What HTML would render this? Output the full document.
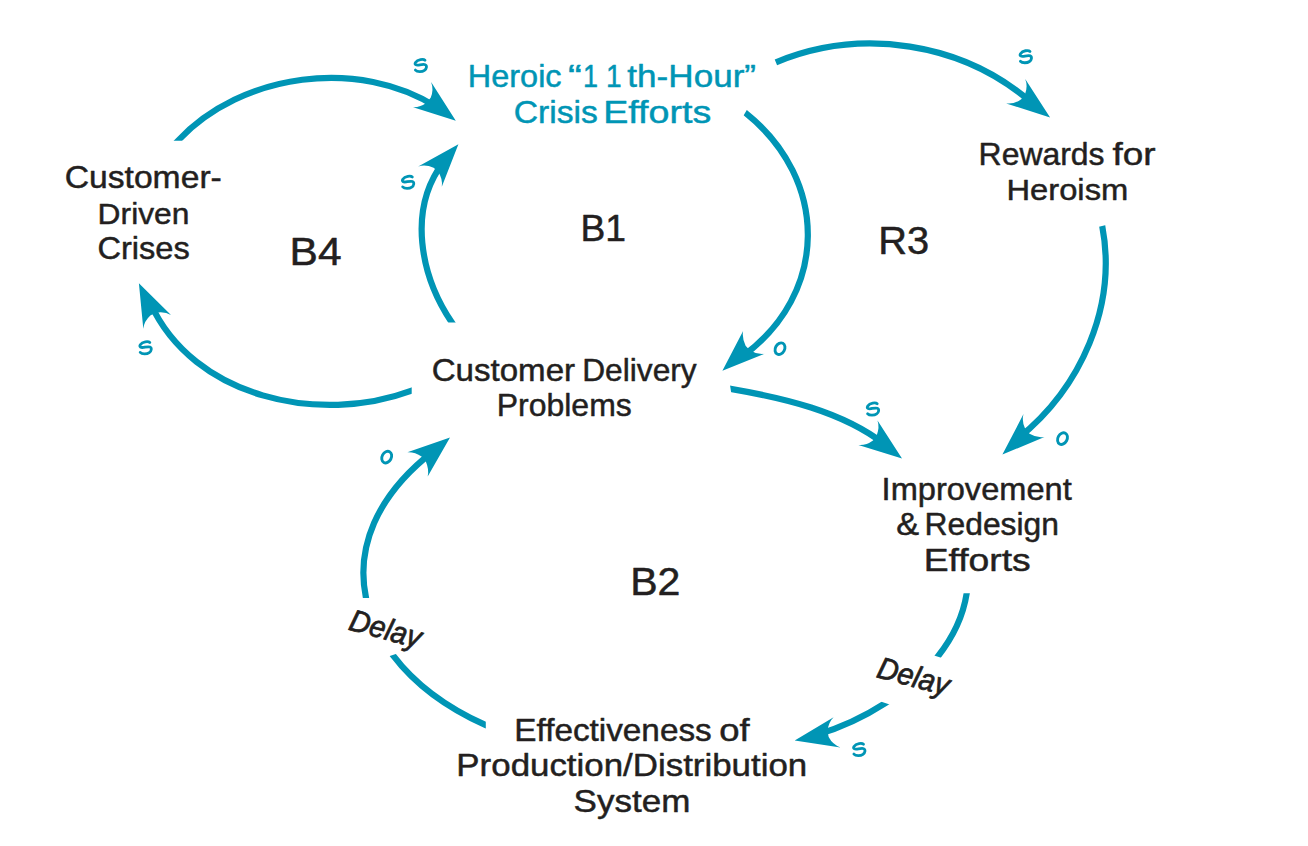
<!DOCTYPE html>
<html><head><meta charset="utf-8"><title>Causal loop diagram</title>
<style>
html,body{margin:0;padding:0;background:#fff;overflow:hidden;width:1308px;height:846px;}
svg{display:block;}
text{font-family:"Liberation Sans",sans-serif;}
</style></head>
<body>
<svg width="1308" height="846" viewBox="0 0 1308 846">
<defs><clipPath id="c_A_s"><polygon points="-2822.1,140.8 3177.9,140.8 3177.9,-2859.2 -2822.1,-2859.2"/></clipPath><clipPath id="c_B_s"><polygon points="-2548.1,322.6 3451.9,322.6 3451.9,-2677.4 -2548.1,-2677.4"/></clipPath><clipPath id="c_D_s"><polygon points="-785.0,2693.0 2275.4,-2467.8 4855.8,-937.6 1795.4,4223.2"/></clipPath><clipPath id="c_E_s"><polygon points="411.7,-2609.4 411.7,3390.6 -2588.3,3390.6 -2588.3,-2609.4"/></clipPath><clipPath id="c_F_s"><polygon points="262.7,-2574.4 1198.5,3352.2 4161.8,2884.3 3226.0,-3042.3"/></clipPath><clipPath id="c_G_s"><polygon points="-1810.0,946.4 4014.4,-494.6 4734.9,2417.5 -1089.4,3858.6"/></clipPath><clipPath id="c_H1_s"><polygon points="-2033.3,593.3 3966.7,593.3 3966.7,3593.3 -2033.3,3593.3"/></clipPath><clipPath id="c_H1_e"><polygon points="-1925.8,-238.1 3801.1,1551.5 4695.9,-1311.9 -1031.0,-3101.6"/></clipPath><clipPath id="c_H2_s"><polygon points="-1957.7,-254.5 3728.4,1660.8 2770.7,4503.8 -2915.4,2588.5"/></clipPath><clipPath id="c_I1_s"><polygon points="485.8,-2274.9 485.8,3725.1 -2514.2,3725.1 -2514.2,-2274.9"/></clipPath><clipPath id="c_I1_e"><polygon points="-2450.2,1612.7 3235.9,-302.6 4193.5,2540.4 -1492.5,4455.7"/></clipPath><clipPath id="c_I2_s"><polygon points="-2634.0,598.0 3366.0,598.0 3366.0,-2402.0 -2634.0,-2402.0"/></clipPath></defs>
<rect width="1308" height="846" fill="#fff"/>
<g fill="none" stroke="#0095b5" stroke-width="6.2" stroke-linecap="butt">
<g clip-path="url(#c_A_s)"><path d="M173.81,145.19 L177.90,140.80 C241.37,72.65 359.55,57.25 437.53,107.54"/></g>
<g clip-path="url(#c_B_s)"><path d="M455.27,327.57 L451.90,322.60 C420.28,275.93 407.29,209.26 443.58,161.78"/></g>
<path d="M775.90,62.30 C860.86,26.98 962.65,42.04 1032.32,103.27"/>
<g clip-path="url(#c_D_s)"><path d="M740.51,108.86 L745.20,112.60 C829.36,179.62 829.27,293.79 741.45,357.18"/></g>
<g clip-path="url(#c_E_s)"><path d="M417.32,388.50 L411.70,390.60 C319.55,425.07 193.60,397.97 150.34,303.25"/></g>
<g clip-path="url(#c_F_s)"><path d="M724.69,387.88 L730.60,388.90 C782.51,397.82 841.98,411.32 884.38,444.16"/></g>
<g clip-path="url(#c_G_s)"><path d="M1101.08,220.01 L1102.20,225.90 C1117.51,306.36 1080.90,387.72 1018.00,438.48"/></g>
<g clip-path="url(#c_H1_e)"><g clip-path="url(#c_H1_s)"><path d="M967.62,587.37 L966.70,593.30 C963.07,616.69 952.49,637.98 937.63,656.71 L933.90,661.41"/></g></g>
<g clip-path="url(#c_H2_s)"><path d="M890.35,699.85 L885.31,703.11 C863.29,717.34 839.29,728.12 816.51,734.88"/></g>
<g clip-path="url(#c_I1_e)"><g clip-path="url(#c_I1_s)"><path d="M491.28,727.55 L485.80,725.10 C445.48,707.09 413.84,682.74 392.84,655.02 L389.22,650.24"/></g></g>
<g clip-path="url(#c_I2_s)"><path d="M367.25,603.87 L366.02,598.00 C355.72,548.95 375.46,496.16 433.08,451.46"/></g>
</g>
<g fill="#0095b5" stroke="none">
<path d="M455.80,120.80 L431.10,81.90 Q433.94,89.39 430.79,97.56 L427.00,102.47 Q419.88,107.59 412.40,107.10 Z"/>
<path d="M458.40,144.30 L418.20,166.40 Q425.65,164.09 433.60,167.77 L438.26,171.87 Q442.91,179.29 441.80,186.70 Z"/>
<path d="M1050.10,117.50 L1025.20,79.00 Q1028.09,86.20 1024.97,94.39 L1021.21,99.31 Q1014.12,104.47 1006.20,103.40 Z"/>
<path d="M722.40,370.70 L743.10,331.00 Q741.84,337.74 745.60,345.65 L749.75,350.26 Q757.22,354.83 764.60,353.80 Z"/>
<path d="M138.90,283.30 L171.00,315.00 Q164.90,311.38 156.24,312.71 L150.63,315.36 Q144.10,321.21 143.30,328.80 Z"/>
<path d="M902.00,458.40 L877.50,420.50 Q879.79,427.23 876.73,435.44 L872.99,440.39 Q865.94,445.59 858.40,444.90 Z"/>
<path d="M1002.40,454.60 L1023.50,414.10 Q1021.49,421.43 1025.33,429.31 L1029.53,433.87 Q1037.05,438.36 1044.50,437.00 Z"/>
<path d="M794.70,740.50 L833.60,717.20 Q828.35,722.27 827.49,730.99 L828.67,737.08 Q832.72,744.85 840.50,747.40 Z"/>
<path d="M450.00,437.40 L407.40,452.30 Q414.57,451.87 421.86,456.74 L425.82,461.51 Q429.27,469.57 427.70,476.40 Z"/>
</g>
<g fill="none" stroke="#0095b5" stroke-width="2.8" stroke-linecap="round">
<path transform="translate(420.7,65.7)" d="M4.3,-5.5 C2.8,-7 -3,-6.5 -5.2,-3.2 C-6.4,-1.2 -4.6,-0.2 -2,-0.6 C0.5,-1 3,-1.6 4.5,-1 C6.5,-0.2 6,3.2 3.8,4.6 C1.5,6.2 -3.5,6.4 -5.3,4.4"/>
<path transform="translate(1025.7,56.9)" d="M4.3,-5.5 C2.8,-7 -3,-6.5 -5.2,-3.2 C-6.4,-1.2 -4.6,-0.2 -2,-0.6 C0.5,-1 3,-1.6 4.5,-1 C6.5,-0.2 6,3.2 3.8,4.6 C1.5,6.2 -3.5,6.4 -5.3,4.4"/>
<path transform="translate(408,182.5)" d="M4.3,-5.5 C2.8,-7 -3,-6.5 -5.2,-3.2 C-6.4,-1.2 -4.6,-0.2 -2,-0.6 C0.5,-1 3,-1.6 4.5,-1 C6.5,-0.2 6,3.2 3.8,4.6 C1.5,6.2 -3.5,6.4 -5.3,4.4"/>
<path transform="translate(145.5,348)" d="M4.3,-5.5 C2.8,-7 -3,-6.5 -5.2,-3.2 C-6.4,-1.2 -4.6,-0.2 -2,-0.6 C0.5,-1 3,-1.6 4.5,-1 C6.5,-0.2 6,3.2 3.8,4.6 C1.5,6.2 -3.5,6.4 -5.3,4.4"/>
<ellipse transform="translate(780,348.7) rotate(28)" rx="4.6" ry="6.1" stroke-width="2.9"/>
<path transform="translate(872.9,409.3)" d="M4.3,-5.5 C2.8,-7 -3,-6.5 -5.2,-3.2 C-6.4,-1.2 -4.6,-0.2 -2,-0.6 C0.5,-1 3,-1.6 4.5,-1 C6.5,-0.2 6,3.2 3.8,4.6 C1.5,6.2 -3.5,6.4 -5.3,4.4"/>
<ellipse transform="translate(1062.5,438.6) rotate(28)" rx="4.6" ry="6.1" stroke-width="2.9"/>
<ellipse transform="translate(386.7,457.1) rotate(28)" rx="4.6" ry="6.1" stroke-width="2.9"/>
<path transform="translate(859.2,749.7)" d="M4.3,-5.5 C2.8,-7 -3,-6.5 -5.2,-3.2 C-6.4,-1.2 -4.6,-0.2 -2,-0.6 C0.5,-1 3,-1.6 4.5,-1 C6.5,-0.2 6,3.2 3.8,4.6 C1.5,6.2 -3.5,6.4 -5.3,4.4"/>
</g>
<g stroke-linejoin="round">
<text transform="translate(467.85,87.20) scale(0.9657,0.94)" font-size="33.60" fill="#0095b5" stroke="#0095b5" stroke-width="0.5" font-style="normal">Heroic</text>
<text transform="translate(567.89,87.20) scale(1.2381,0.94)" font-size="33.60" fill="#0095b5" stroke="#0095b5" stroke-width="0.5" font-style="normal">“</text>
<text transform="translate(582.99,87.20) scale(0.8029,0.94)" font-size="33.60" fill="#0095b5" stroke="#0095b5" stroke-width="0.5" font-style="normal">1</text>
<text transform="translate(606.00,87.20) scale(0.8375,0.94)" font-size="33.60" fill="#0095b5" stroke="#0095b5" stroke-width="0.5" font-style="normal">1</text>
<text transform="translate(627.35,87.20) scale(1.0446,0.94)" font-size="33.60" fill="#0095b5" stroke="#0095b5" stroke-width="0.5" font-style="normal">th-Hour”</text>
<text transform="translate(513.67,122.70) scale(1.0015,0.94)" font-size="33.60" fill="#0095b5" stroke="#0095b5" stroke-width="0.5" font-style="normal">Crisis</text>
<text transform="translate(603.24,122.70) scale(1.1193,0.94)" font-size="33.60" fill="#0095b5" stroke="#0095b5" stroke-width="0.5" font-style="normal">Efforts</text>
<text transform="translate(64.67,188.40) scale(1.0103,0.94)" font-size="33.33" fill="#231f20" stroke="#231f20" stroke-width="0.5" font-style="normal">Customer-</text>
<text transform="translate(97.61,223.70) scale(0.9880,0.94)" font-size="32.17" fill="#231f20" stroke="#231f20" stroke-width="0.5" font-style="normal">Driven</text>
<text transform="translate(97.42,259.40) scale(0.9959,0.94)" font-size="32.75" fill="#231f20" stroke="#231f20" stroke-width="0.5" font-style="normal">Crises</text>
<text transform="translate(978.60,164.60) scale(0.9618,0.94)" font-size="33.20" fill="#231f20" stroke="#231f20" stroke-width="0.5" font-style="normal">Rewards</text>
<text transform="translate(1112.38,164.60) scale(1.1123,0.94)" font-size="33.20" fill="#231f20" stroke="#231f20" stroke-width="0.5" font-style="normal">for</text>
<text transform="translate(1006.43,199.90) scale(1.0315,0.94)" font-size="31.74" fill="#231f20" stroke="#231f20" stroke-width="0.5" font-style="normal">Heroism</text>
<text transform="translate(431.70,380.80) scale(0.9849,0.94)" font-size="33.60" fill="#231f20" stroke="#231f20" stroke-width="0.5" font-style="normal">Customer</text>
<text transform="translate(582.21,380.80) scale(0.9434,0.94)" font-size="33.60" fill="#231f20" stroke="#231f20" stroke-width="0.5" font-style="normal">Delivery</text>
<text transform="translate(496.79,416.40) scale(0.9509,0.94)" font-size="33.62" fill="#231f20" stroke="#231f20" stroke-width="0.5" font-style="normal">Problems</text>
<text transform="translate(881.62,500.00) scale(1.0041,0.94)" font-size="32.46" fill="#231f20" stroke="#231f20" stroke-width="0.5" font-style="normal">Improvement</text>
<text transform="translate(896.28,535.30) scale(1.0446,0.94)" font-size="32.80" fill="#231f20" stroke="#231f20" stroke-width="0.5" font-style="normal">&amp;</text>
<text transform="translate(924.50,535.30) scale(0.9707,0.94)" font-size="32.80" fill="#231f20" stroke="#231f20" stroke-width="0.5" font-style="normal">Redesign</text>
<text transform="translate(923.67,571.00) scale(1.1333,0.94)" font-size="32.90" fill="#231f20" stroke="#231f20" stroke-width="0.5" font-style="normal">Efforts</text>
<text transform="translate(514.29,740.70) scale(1.0092,0.94)" font-size="33.00" fill="#231f20" stroke="#231f20" stroke-width="0.5" font-style="normal">Effectiveness</text>
<text transform="translate(719.19,740.70) scale(1.1047,0.94)" font-size="33.00" fill="#231f20" stroke="#231f20" stroke-width="0.5" font-style="normal">of</text>
<text transform="translate(456.36,776.10) scale(1.0747,0.94)" font-size="32.46" fill="#231f20" stroke="#231f20" stroke-width="0.5" font-style="normal">Production/Distribution</text>
<text transform="translate(573.60,811.90) scale(1.0374,0.94)" font-size="33.77" fill="#231f20" stroke="#231f20" stroke-width="0.5" font-style="normal">System</text>
<text transform="translate(289.55,264.70) scale(1.1114,1)" font-size="38.26" fill="#231f20" stroke="#231f20" stroke-width="0.5" font-style="normal">B4</text>
<text transform="translate(580.47,240.60) scale(0.9962,1)" font-size="37.39" fill="#231f20" stroke="#231f20" stroke-width="0.5" font-style="normal">B1</text>
<text transform="translate(878.36,254.30) scale(1.0409,1)" font-size="38.26" fill="#231f20" stroke="#231f20" stroke-width="0.5" font-style="normal">R3</text>
<text transform="translate(630.16,594.60) scale(1.0742,1)" font-size="38.26" fill="#231f20" stroke="#231f20" stroke-width="0.5" font-style="normal">B2</text>
<text transform="translate(347.50,629.50) rotate(15) scale(0.87,0.93)" font-size="33" fill="#231f20" stroke="#231f20" stroke-width="0.8" font-style="italic">Delay</text>
<text transform="translate(875.40,676.90) rotate(15) scale(0.87,0.93)" font-size="33" fill="#231f20" stroke="#231f20" stroke-width="0.8" font-style="italic">Delay</text>
</g>
</svg>
</body></html>
